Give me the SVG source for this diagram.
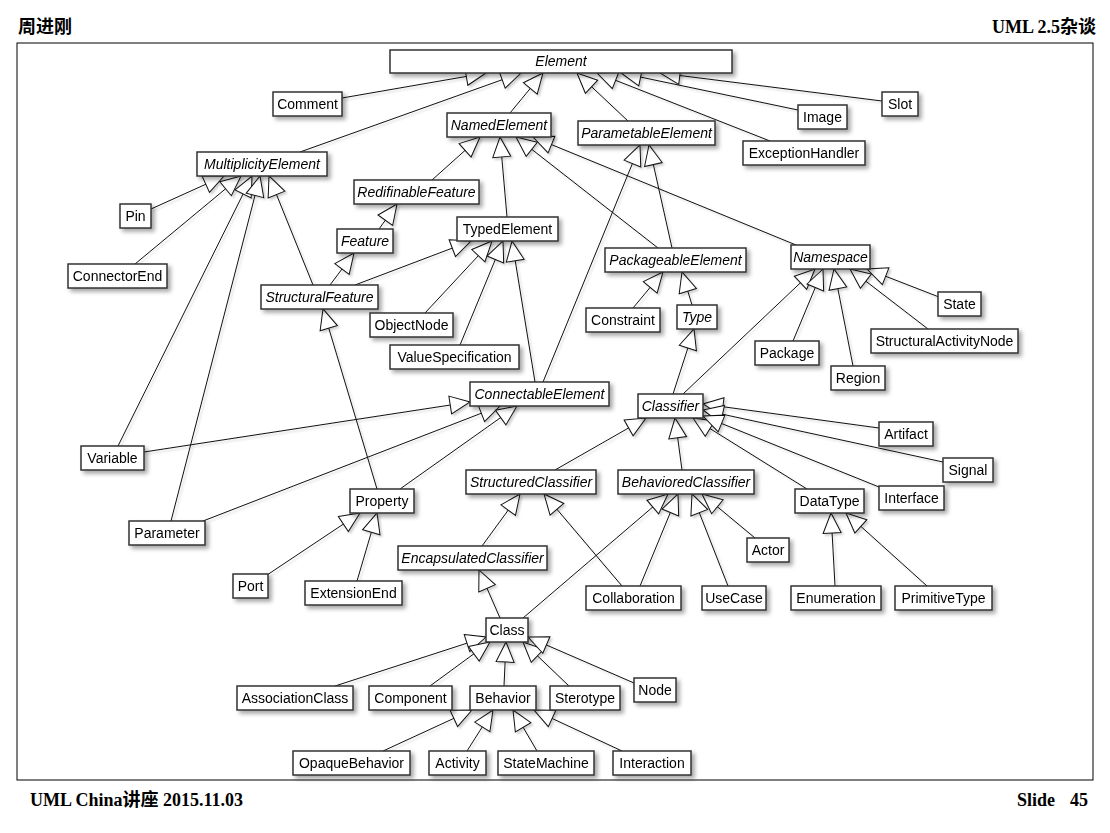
<svg xmlns="http://www.w3.org/2000/svg" width="1110" height="833" viewBox="0 0 1110 833">
<style>
.n rect{fill:#fff;stroke:#333;stroke-width:1.5}
.n text{font-family:"Liberation Sans",Arial,sans-serif;font-size:14px;fill:#000;text-anchor:middle}
.a text{font-style:italic}
#connectors line{stroke:#111;stroke-width:1;marker-end:url(#gen)}
.hdr{font-family:"Liberation Serif","Noto Sans CJK SC",serif;font-weight:bold;font-size:18px;fill:#000}
</style>
<defs>
<filter id="sh" x="-20%" y="-30%" width="140%" height="180%">
<feDropShadow dx="3" dy="3" stdDeviation="2" flood-color="#000" flood-opacity="0.35"/>
</filter>
<filter id="lsh" x="-5%" y="-5%" width="110%" height="110%">
<feDropShadow dx="2" dy="2" stdDeviation="1.2" flood-color="#000" flood-opacity="0.18"/>
</filter>
<marker id="gen" viewBox="0 0 22 20" markerWidth="22" markerHeight="20" refX="21" refY="10" orient="auto" markerUnits="userSpaceOnUse" overflow="visible">
<path d="M1,1 L21,10 L1,19 Z" fill="#fff" stroke="#111" stroke-width="1"/>
</marker>
</defs>
<rect width="1110" height="833" fill="#fff"/>
<text class="hdr" x="18" y="33" style="font-family:'Noto Sans CJK SC',sans-serif">周进刚</text>
<text class="hdr" x="1096" y="33" text-anchor="end">UML 2.5杂谈</text>
<rect x="17" y="43" width="1076" height="737" fill="none" stroke="#000" stroke-width="1"/>
<text class="hdr" x="30" y="806">UML China讲座 2015.11.03</text>
<text class="hdr" x="1017" y="806">Slide<tspan x="1070">45</tspan></text>

<g id="connectors" filter="url(#lsh)">
<line x1="342" y1="98" x2="486" y2="73"/>
<line x1="300" y1="152" x2="521" y2="73"/>
<line x1="510" y1="113" x2="543" y2="73"/>
<line x1="628" y1="121" x2="577" y2="73"/>
<line x1="770" y1="141" x2="597" y2="73"/>
<line x1="798" y1="110" x2="621" y2="73"/>
<line x1="882" y1="101" x2="660" y2="73"/>
<line x1="432" y1="180" x2="480" y2="137"/>
<line x1="507" y1="217" x2="500" y2="137"/>
<line x1="658" y1="248" x2="516" y2="137"/>
<line x1="796" y1="245" x2="533" y2="137"/>
<line x1="543" y1="382" x2="640" y2="145"/>
<line x1="672" y1="248" x2="649" y2="145"/>
<line x1="151" y1="209" x2="224" y2="176"/>
<line x1="135" y1="264" x2="241" y2="176"/>
<line x1="118" y1="446" x2="252" y2="176"/>
<line x1="171" y1="521" x2="260" y2="176"/>
<line x1="313" y1="285" x2="269" y2="176"/>
<line x1="379" y1="229" x2="397" y2="204"/>
<line x1="330" y1="285" x2="354" y2="253"/>
<line x1="355" y1="285" x2="471" y2="241"/>
<line x1="425" y1="313" x2="492" y2="241"/>
<line x1="460" y1="345" x2="503" y2="241"/>
<line x1="535" y1="382" x2="512" y2="241"/>
<line x1="633" y1="308" x2="663" y2="272"/>
<line x1="692" y1="305" x2="682" y2="272"/>
<line x1="673" y1="394" x2="694" y2="329"/>
<line x1="683" y1="394" x2="815" y2="269"/>
<line x1="793" y1="341" x2="823" y2="269"/>
<line x1="853" y1="366" x2="834" y2="269"/>
<line x1="928" y1="329" x2="850" y2="269"/>
<line x1="939" y1="297" x2="867" y2="269"/>
<line x1="144" y1="452" x2="470" y2="402"/>
<line x1="203" y1="521" x2="500" y2="406"/>
<line x1="400" y1="489" x2="517" y2="406"/>
<line x1="377" y1="489" x2="323" y2="309"/>
<line x1="267" y1="575" x2="360" y2="513"/>
<line x1="357" y1="581" x2="377" y2="513"/>
<line x1="555" y1="470" x2="646" y2="418"/>
<line x1="682" y1="470" x2="675" y2="418"/>
<line x1="807" y1="489" x2="693" y2="418"/>
<line x1="879" y1="428" x2="703" y2="404"/>
<line x1="943" y1="462" x2="703" y2="410"/>
<line x1="879" y1="487" x2="703" y2="416"/>
<line x1="482" y1="546" x2="520" y2="494"/>
<line x1="622" y1="586" x2="544" y2="494"/>
<line x1="523" y1="618" x2="668" y2="494"/>
<line x1="640" y1="586" x2="678" y2="494"/>
<line x1="728" y1="586" x2="692" y2="494"/>
<line x1="755" y1="538" x2="702" y2="494"/>
<line x1="835" y1="586" x2="831" y2="513"/>
<line x1="927" y1="586" x2="846" y2="513"/>
<line x1="500" y1="618" x2="479" y2="570"/>
<line x1="335" y1="686" x2="486" y2="637"/>
<line x1="430" y1="686" x2="490" y2="642"/>
<line x1="504" y1="686" x2="506" y2="642"/>
<line x1="569" y1="686" x2="523" y2="642"/>
<line x1="634" y1="683" x2="528" y2="637"/>
<line x1="383" y1="751" x2="472" y2="710"/>
<line x1="467" y1="751" x2="493" y2="710"/>
<line x1="537" y1="751" x2="513" y2="710"/>
<line x1="622" y1="751" x2="534" y2="710"/>
</g>

<g id="nodes" filter="url(#sh)">
<g id="Element" class="n a"><rect x="390" y="50" width="342" height="23"/><text x="561" y="66">Element</text></g>
<g id="Comment" class="n"><rect x="273" y="92" width="69" height="24"/><text x="307.5" y="109">Comment</text></g>
<g id="NamedElement" class="n a"><rect x="447" y="113" width="104" height="24"/><text x="499" y="130">NamedElement</text></g>
<g id="ParametableElement" class="n a"><rect x="578" y="121" width="137" height="24"/><text x="646.5" y="138">ParametableElement</text></g>
<g id="Image" class="n"><rect x="798" y="105" width="49" height="24"/><text x="822.5" y="122">Image</text></g>
<g id="Slot" class="n"><rect x="882" y="92" width="36" height="24"/><text x="900" y="109">Slot</text></g>
<g id="ExceptionHandler" class="n"><rect x="743" y="141" width="122" height="24"/><text x="804" y="158">ExceptionHandler</text></g>
<g id="MultiplicityElement" class="n a"><rect x="197" y="152" width="130" height="24"/><text x="262" y="169">MultiplicityElement</text></g>
<g id="RedifinableFeature" class="n a"><rect x="354" y="180" width="125" height="24"/><text x="416.5" y="197">RedifinableFeature</text></g>
<g id="Pin" class="n"><rect x="120" y="204" width="31" height="24"/><text x="135.5" y="221">Pin</text></g>
<g id="Feature" class="n a"><rect x="337" y="229" width="56" height="24"/><text x="365" y="246">Feature</text></g>
<g id="TypedElement" class="n"><rect x="457" y="217" width="101" height="24"/><text x="507.5" y="234">TypedElement</text></g>
<g id="ConnectorEnd" class="n"><rect x="68" y="264" width="99" height="24"/><text x="117.5" y="281">ConnectorEnd</text></g>
<g id="PackageableElement" class="n a"><rect x="605" y="248" width="141" height="24"/><text x="675.5" y="265">PackageableElement</text></g>
<g id="Namespace" class="n a"><rect x="791" y="245" width="79" height="24"/><text x="830.5" y="262">Namespace</text></g>
<g id="StructuralFeature" class="n a"><rect x="261" y="285" width="117" height="24"/><text x="319.5" y="302">StructuralFeature</text></g>
<g id="ObjectNode" class="n"><rect x="370" y="313" width="83" height="24"/><text x="411.5" y="330">ObjectNode</text></g>
<g id="Constraint" class="n"><rect x="586" y="308" width="74" height="24"/><text x="623" y="325">Constraint</text></g>
<g id="Type" class="n a"><rect x="677" y="305" width="40" height="24"/><text x="697" y="322">Type</text></g>
<g id="State" class="n"><rect x="938" y="292" width="43" height="24"/><text x="959.5" y="309">State</text></g>
<g id="StructuralActivityNode" class="n"><rect x="871" y="329" width="147" height="24"/><text x="944.5" y="346">StructuralActivityNode</text></g>
<g id="ValueSpecification" class="n"><rect x="390" y="345" width="129" height="24"/><text x="454.5" y="362">ValueSpecification</text></g>
<g id="Package" class="n"><rect x="755" y="341" width="64" height="24"/><text x="787" y="358">Package</text></g>
<g id="Region" class="n"><rect x="831" y="366" width="54" height="24"/><text x="858" y="383">Region</text></g>
<g id="ConnectableElement" class="n a"><rect x="470" y="382" width="139" height="24"/><text x="539.5" y="399">ConnectableElement</text></g>
<g id="Classifier" class="n a"><rect x="638" y="394" width="65" height="24"/><text x="670.5" y="411">Classifier</text></g>
<g id="Artifact" class="n"><rect x="879" y="422" width="54" height="24"/><text x="906" y="439">Artifact</text></g>
<g id="Variable" class="n"><rect x="81" y="446" width="63" height="24"/><text x="112.5" y="463">Variable</text></g>
<g id="Signal" class="n"><rect x="943" y="458" width="50" height="24"/><text x="968" y="475">Signal</text></g>
<g id="StructuredClassifier" class="n a"><rect x="466" y="470" width="130" height="24"/><text x="531" y="487">StructuredClassifier</text></g>
<g id="BehavioredClassifier" class="n a"><rect x="618" y="470" width="136" height="24"/><text x="686" y="487">BehavioredClassifier</text></g>
<g id="Property" class="n"><rect x="350" y="489" width="64" height="24"/><text x="382" y="506">Property</text></g>
<g id="DataType" class="n"><rect x="795" y="489" width="69" height="24"/><text x="829.5" y="506">DataType</text></g>
<g id="Interface" class="n"><rect x="879" y="486" width="65" height="24"/><text x="911.5" y="503">Interface</text></g>
<g id="Parameter" class="n"><rect x="129" y="521" width="76" height="24"/><text x="167" y="538">Parameter</text></g>
<g id="EncapsulatedClassifier" class="n a"><rect x="398" y="546" width="149" height="24"/><text x="472.5" y="563">EncapsulatedClassifier</text></g>
<g id="Actor" class="n"><rect x="747" y="538" width="42" height="24"/><text x="768" y="555">Actor</text></g>
<g id="Port" class="n"><rect x="233" y="574" width="35" height="24"/><text x="250.5" y="591">Port</text></g>
<g id="ExtensionEnd" class="n"><rect x="305" y="581" width="97" height="24"/><text x="353.5" y="598">ExtensionEnd</text></g>
<g id="Collaboration" class="n"><rect x="586" y="586" width="95" height="24"/><text x="633.5" y="603">Collaboration</text></g>
<g id="UseCase" class="n"><rect x="702" y="586" width="64" height="24"/><text x="734" y="603">UseCase</text></g>
<g id="Enumeration" class="n"><rect x="791" y="586" width="90" height="24"/><text x="836" y="603">Enumeration</text></g>
<g id="PrimitiveType" class="n"><rect x="895" y="586" width="97" height="24"/><text x="943.5" y="603">PrimitiveType</text></g>
<g id="Class" class="n"><rect x="486" y="618" width="42" height="24"/><text x="507" y="635">Class</text></g>
<g id="AssociationClass" class="n"><rect x="237" y="686" width="116" height="24"/><text x="295" y="703">AssociationClass</text></g>
<g id="Component" class="n"><rect x="369" y="686" width="83" height="24"/><text x="410.5" y="703">Component</text></g>
<g id="Behavior" class="n"><rect x="470" y="686" width="66" height="24"/><text x="503" y="703">Behavior</text></g>
<g id="Sterotype" class="n"><rect x="550" y="686" width="70" height="24"/><text x="585" y="703">Sterotype</text></g>
<g id="Node" class="n"><rect x="634" y="678" width="42" height="24"/><text x="655" y="695">Node</text></g>
<g id="OpaqueBehavior" class="n"><rect x="293" y="751" width="117" height="24"/><text x="351.5" y="768">OpaqueBehavior</text></g>
<g id="Activity" class="n"><rect x="429" y="751" width="57" height="24"/><text x="457.5" y="768">Activity</text></g>
<g id="StateMachine" class="n"><rect x="498" y="751" width="96" height="24"/><text x="546" y="768">StateMachine</text></g>
<g id="Interaction" class="n"><rect x="613" y="751" width="78" height="24"/><text x="652" y="768">Interaction</text></g>
</g>
</svg>
